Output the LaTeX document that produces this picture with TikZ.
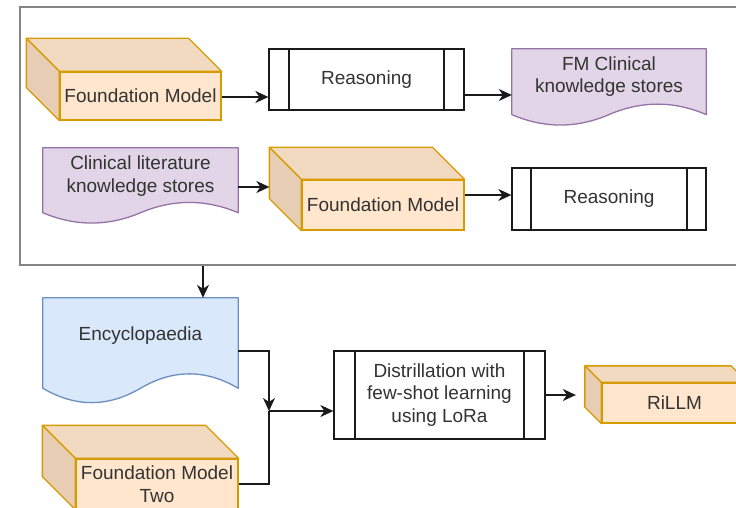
\documentclass[tikz,border=0pt]{standalone}
\usepackage{fontspec}
\setmainfont{Liberation Sans}
\usetikzlibrary{arrows.meta,calc}

\definecolor{fmfill}{HTML}{FFE6CC}
\definecolor{fmline}{HTML}{D79B00}
\definecolor{fmtop}{HTML}{F2DAC1}
\definecolor{fmside}{HTML}{E6CDB3}
\definecolor{purfill}{HTML}{E1D5E7}
\definecolor{purline}{HTML}{9673A6}
\definecolor{bluefill}{HTML}{DAE8FC}
\definecolor{blueline}{HTML}{6C8EBF}
\definecolor{txt}{HTML}{333333}
\definecolor{framegray}{HTML}{858585}
\definecolor{ink}{HTML}{1A1A1A}

\tikzset{
  base/.style={inner sep=0pt, align=center, font=\fontsize{19}{22.5}\selectfont, text=txt},
  cubeface/.style={base, draw=fmline, fill=fmfill, line width=1.3pt},
  backface/.style={draw=fmline, line width=1.3pt, line join=round},
  procbox/.style={base, draw=ink, fill=white, line width=1.3pt,
    path picture={
      \draw[ink, line width=1.3pt]
        ([xshift=#1]path picture bounding box.north west) -- ([xshift=#1]path picture bounding box.south west)
        ([xshift=-#1]path picture bounding box.north east) -- ([xshift=-#1]path picture bounding box.south east);
    }},
  docbox/.style={base},
  framebox/.style={draw=framegray, line width=2.4pt, inner sep=0pt},
  conn/.style={draw=ink, line width=1.4pt, -{Stealth[length=13pt,width=12pt,inset=4pt]}},
  wire/.style={draw=ink, line width=1.4pt},
}

% cube: front face node with text, plus top and left faces
\newcommand\cubenode[6]{%
  \node[cubeface, minimum width=#3, minimum height=#4] (#1) at #2 {#6};
  \path[backface, fill=fmtop] (#1.north west) -- ++(-#5,#5)
    -- ([shift={(-#5,#5)}]#1.north east) -- (#1.north east) -- cycle;
  \path[backface, fill=fmside] (#1.north west) -- ++(-#5,#5)
    -- ([shift={(-#5,#5)}]#1.south west) -- (#1.south west) -- cycle;
  \coordinate (#1-bk) at ([shift={(-#5,#5)}]#1.north west);
}

% document outline with a wavy bottom edge, drawn on a node's box
\newcommand\docshape[3]{%
  \path[fill=#2, draw=#3, line width=1.3pt, line join=round]
    let \p1=(#1.north west), \p2=(#1.south east),
        \n1={0.3*(\y1-\y2)}, \n2={\x2-\x1} in
    (\x1,\y1) -- (\x2,\y1) -- (\x2,\y2+0.5*\n1)
    .. controls (\x2-\n2/6,\y2+1.1*\n1) and (\x1+2*\n2/3,\y2+1.1*\n1) .. (\x1+0.5*\n2,\y2+0.5*\n1)
    .. controls (\x1+\n2/3,\y2-0.1*\n1) and (\x1+\n2/6,\y2-0.1*\n1) .. (\x1,\y2+0.5*\n1)
    -- cycle;
}

\begin{document}
\begin{tikzpicture}[x=1pt,y=-1pt]
\useasboundingbox (0,0) rectangle (736,508);

% enclosing frame
\node[framebox, minimum width=750pt, minimum height=258pt] (frame) at (394.75,136) {};

% first row
\cubenode{fm1}{(140.5,96)}{161pt}{48pt}{33pt}{Foundation Model}
\node[procbox=20pt, minimum width=195pt, minimum height=61pt] (r1) at (366.5,79.5) {Reasoning};
\node[docbox, minimum width=194pt, minimum height=77pt] (fmc) at (609,87.5) {};
\docshape{fmc}{purfill}{purline}
\node[base] (fmc-t) at (609,76.5) {FM Clinical\\knowledge stores};

% second row
\node[docbox, minimum width=195pt, minimum height=76pt] (cls) at (140.5,186) {};
\docshape{cls}{purfill}{purline}
\node[base] (cls-t) at (140.5,176) {Clinical literature\\knowledge stores};
\cubenode{fm2}{(383,205)}{162pt}{50pt}{32pt}{Foundation Model}
\node[procbox=19pt, minimum width=194pt, minimum height=62pt] (r2) at (609,199) {Reasoning};

% lower part
\node[docbox, minimum width=195pt, minimum height=106pt] (enc) at (140.5,351) {};
\docshape{enc}{bluefill}{blueline}
\node[base] (enc-t) at (140.5,336) {Encyclopaedia};
\cubenode{fmtwo}{(157,484)}{162pt}{50pt}{33pt}{Foundation Model\\Two}
\node[procbox=21pt, minimum width=211pt, minimum height=88pt] (dist) at (439.5,395)
  {Distrillation with\\few-shot learning\\using LoRa};
\cubenode{rillm}{(674.5,403)}{145pt}{40pt}{16.5pt}{RiLLM}

% connectors
\draw[conn] ([yshift=-1pt]fm1.east) coordinate (a1) -- (a1 -| r1.west);
\draw[conn] ([yshift=-15.5pt]r1.east) coordinate (a2) -- (a2 -| fmc.west);
\draw[conn] ([yshift=-1pt]cls.east) coordinate (a3) -- (a3 -| fm2-bk);
\draw[conn] ([yshift=10pt]fm2.east) coordinate (a4) -- (a4 -| r2.west);

\coordinate (e-in) at ([xshift=62.5pt]enc.north);
\draw[conn] (e-in |- frame.south) -- (e-in);

\coordinate (jn) at (269,411);
\draw[conn] (enc.east) -| (jn);
\draw[wire] (fmtwo.east) -| (jn);
\draw[conn] (jn) -- (jn -| dist.west);
\draw[conn, shorten >=9pt] (dist.east) -- (dist.east -| rillm-bk);
\end{tikzpicture}
\end{document}
